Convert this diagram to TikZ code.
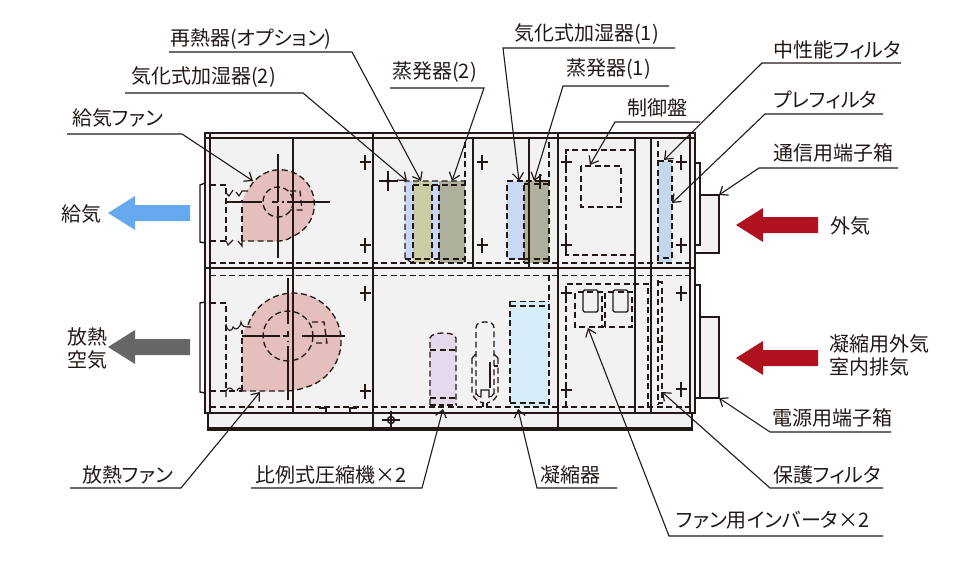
\documentclass[tikz,border=0pt]{standalone}
\usepackage{fontspec}
\setmainfont[RawFeature={+palt}]{Noto Sans CJK JP}
\usetikzlibrary{arrows.meta}
\definecolor{ink}{HTML}{231815}
\definecolor{casegray}{HTML}{F2F2F2}
\definecolor{fanpink}{HTML}{E4BFBE}
\definecolor{humblue}{HTML}{C9D8F7}
\definecolor{olivea}{HTML}{C9CCA4}
\definecolor{oliveb}{HTML}{AFB09B}
\definecolor{filtblue}{HTML}{C3D8EC}
\definecolor{condblue}{HTML}{D5ECF9}
\definecolor{complilac}{HTML}{E6D9EB}
\definecolor{airblue}{HTML}{66A9EE}
\definecolor{airgray}{HTML}{666666}
\definecolor{airred}{HTML}{B0121F}
\tikzset{
  x=1pt,y=-1pt,
  line/.style={draw=ink,line width=1.4pt},
  thin line/.style={draw=ink,line width=1.1pt},
  dash line/.style={draw=ink,line width=1.3pt,dash pattern=on 6pt off 3.5pt},
  lead/.style={draw=ink,line width=1.1pt,-{Straight Barb[length=7pt,width=11pt,line width=1.2pt]}},
  lab/.style={anchor=west,inner sep=0pt,text=ink,font=\fontsize{20}{22}\selectfont},
  txt/.style={inner sep=0pt,text=ink,font=\fontsize{20}{22}\selectfont},
  crossmark/.style={draw=ink,line width=1.3pt},
}
\begin{document}
\begin{tikzpicture}
\useasboundingbox (0,0) rectangle (960,560);
% case fills
\fill[casegray] (205,133) rectangle (695,413);
\fill[casegray] (208,413) rectangle (692,430);
\fill[casegray] (700,195) rectangle (719,253);
\fill[casegray] (700,317) rectangle (719,398);
% colour fills
\fill[fanpink] (242,241) -- (242,205) .. controls (243,197) and (246,191) .. (250,187) arc[start angle=210,end angle=430,radius=34.5] .. controls (288,240) and (283,241) .. (278,241) -- cycle;
\fill[fanpink] (242,391) -- (242,338) .. controls (243,332) and (245,328) .. (248,324.6) arc[start angle=200,end angle=435,radius=48] .. controls (298,390) and (292,391) .. (285,391) -- cycle;
\fill[humblue] (405,181) rectangle (440,259);
\fill[olivea] (413,181) rectangle (432,263);
\fill[oliveb] (439,181) rectangle (465,263);
\fill[humblue] (507,181) rectangle (525,259);
\fill[oliveb] (524,181) rectangle (549,263);
\fill[filtblue] (658,161) rectangle (672,263);
\fill[condblue] (510,301) rectangle (549,407);
\fill[complilac] (430,405) -- (430,338) .. controls (431,334) and (438,333) .. (443,333) .. controls (449,333) and (455,334) .. (456,338) -- (456,405) -- cycle;
% flanges
\draw[line] (205,183) -- (200,185) -- (200,242) -- (205,243);
\draw[line] (205,302) -- (200,303) -- (200,392) -- (205,393);
\draw[line] (695,163) -- (700,163) -- (700,245) -- (695,245);
\draw[line] (700,195) -- (719,195) -- (719,253) -- (695,253);
\draw[line] (695,285) -- (700,285) -- (700,398) -- (695,398);
\draw[line] (700,317) -- (719,317) -- (719,398) -- (700,398);
% case lines
\draw[line] (205,133) rectangle (695,413);
\draw[line] (205,138) -- (695,138);
\draw[line] (205,268) -- (695,268);
\draw[line] (210,133) -- (210,413);
\draw[line] (690,133) -- (690,413);
\draw[line] (208,413) -- (208,430) -- (692,430) -- (692,413);
\draw[line] (208,428) -- (692,428);
\draw[line] (293,138) -- (293,413);
\draw[line] (373,133) -- (373,430);
\draw[line] (473,138) -- (473,268);
\draw[thin line] (529,138) -- (529,268);
\draw[line] (558,133) -- (558,430);
\draw[line] (635,138) -- (635,413);
\draw[line] (651,138) -- (651,413);
% long dashed rails
\draw[dash line] (210,263) -- (690,263);
\draw[dash line] (210,275.5) -- (690,275.5);
\draw[dash line] (210,407) -- (690,407);
% crosses
\foreach \cx/\cy in {365/162,365/245,482/162,482/245,540/181,566/162,566/245,681/162,681/245,365/293,365/391,566/293,566/390,681/293,681/389}{
  \draw[crossmark] (\cx-5.5,\cy) -- (\cx+5.5,\cy) (\cx,\cy-7.5) -- (\cx,\cy+7.5);
}
\draw[crossmark] (379,181) -- (398,181) (388,171) -- (388,191);
\fill[ink] (388,181) circle[radius=2];
% supply fan
\draw[dash line] (242,241) -- (242,200);
\draw[dash line] (250,187) arc[start angle=210,end angle=430,radius=34.5] .. controls (288,240) and (283,241) .. (278,241) -- (242,241);
\draw[dash line] (278,202) circle[radius=15];
\draw[dash line] (290,191) -- (300,191) -- (302,210) -- (290,210);
\draw[thin line] (278,154) -- (278,196) (278,208) -- (278,258);
\draw[thin line] (226,202) -- (262,202) (287,202) -- (330,202);
\draw[dash line] (272,202) -- (284,202) (278,196) -- (278,208);
\draw[dash line] (210,185) -- (226,185) -- (226,240);
\draw[dash line] (210,241) -- (226,241);
\draw[thin line] (226,193) -- (229,196) -- (233,190) (236,192) -- (239,196) -- (242,191) -- (248,191);
\draw[thin line] (226,241) -- (228,245) -- (233,240) (238,241) -- (242,246) -- (242,241);
% heat rejection fan
\draw[dash line] (242,391) -- (242,330);
\draw[dash line] (248,324.6) arc[start angle=200,end angle=435,radius=48] .. controls (298,390) and (292,391) .. (285,391) -- (242,391);
\draw[dash line] (288,336) circle[radius=25];
\draw[dash line] (312,322) -- (324,322) -- (327,343) -- (316,343);
\draw[thin line] (288,278) -- (288,324) (288,346) -- (288,400);
\draw[thin line] (242,336) -- (280,336) (302,336) -- (345,336);
\draw[dash line] (283,336) -- (293,336) (288,331) -- (288,341);
\draw[dash line] (210,303) -- (226,303) -- (226,391);
\draw[dash line] (210,391) -- (242,391);
\draw[thin line] (226,324) .. controls (227,332) and (232,332) .. (233,327) .. controls (235,331) and (240,329) .. (241,322) .. controls (242,327) and (244,327) .. (251,327);
\draw[thin line] (226,397) -- (226,391) .. controls (228,387) and (232,387) .. (233,391) (237,391) .. controls (238,387) and (241,387) .. (242,391);
% floor brackets
\draw[line] (319,408) -- (326,408) -- (326,413);
\draw[line] (350,413) -- (350,408) -- (357,408);
% base marker
\draw[line] (391,420) circle[radius=3.5];
\draw[thin line] (382,420) -- (400,420) (391,411) -- (391,431);
% humidifier 2 / evaporator 2
\draw[dash line] (413,263) -- (405,259) -- (405,181) -- (465,181);
\draw[dash line] (405,259) -- (465,259);
\draw[dash line] (413,185) -- (413,263);
\draw[dash line] (432,185) -- (432,263);
\draw[dash line] (439,185) -- (439,263);
\draw[dash line] (465,142) -- (465,263);
\draw[dash line] (413,185) -- (465,185);
% humidifier 1 / evaporator 1
\draw[dash line] (524,259) -- (507,259) -- (507,181) -- (549,181);
\draw[dash line] (524,185) -- (524,263);
\draw[dash line] (549,142) -- (549,263);
\draw[dash line] (524,184) -- (549,184);
\draw[dash line] (524,259) -- (549,259);
% control panel
\draw[dash line] (635,150) -- (566,150) -- (566,255) -- (635,255);
\draw[dash line] (581,166) rectangle (621,207);
% filters
\draw[dash line] (658,141) -- (658,263);
\draw[dash line] (658,161) -- (672,161) -- (672,258) -- (660,258);
% compressor 1
\draw[dash line] (430,405) -- (430,338) .. controls (431,334) and (438,333) .. (443,333) .. controls (449,333) and (455,334) .. (456,338) -- (456,405);
\draw[dash line] (430,350) -- (456,350);
\draw[dash line] (430,398) -- (456,398);
\draw[draw=ink,line width=2.6pt,dash pattern=on 5.5pt off 3pt] (430,405) -- (456,405);
% compressor 2
\draw[dash line] (476,395) -- (476,328) .. controls (476,323) and (480,322) .. (485,322) .. controls (490,322) and (494,323) .. (494,328) -- (494,395);
\draw[thin line] (476,354) -- (472,358);
\draw[thin line] (494,354) -- (498,358);
\draw[dash line] (472,358) -- (472,393) .. controls (474,399) and (478,402) .. (484,403);
\draw[dash line] (498,358) -- (498,393) .. controls (496,399) and (492,402) .. (487,403);
\draw[thin line] (476,393) .. controls (477,396) and (479,397) .. (481,397) -- (481,390) -- (489,390) -- (489,397) .. controls (491,397) and (493,396) .. (494,393);
\draw[thin line] (490,362) -- (490,388);
\draw[thin line] (494,366) -- (498,366);
\draw[thin line] (483,407) -- (483,403) (487,407) -- (487,403);
% condenser
\draw[dash line] (510,301.5) -- (549,301.5);
\draw[dash line] (510,306) -- (549,306);
\draw[dash line] (510,403) -- (549,403);
\draw[dash line] (510,301) -- (510,407);
\draw[dash line] (549,275) -- (549,407);
% inverter area
\draw[dash line] (566,407) -- (566,284) -- (648,284) -- (648,407);
\draw[dash line] (604,327) -- (575,327) -- (575,292) -- (602,292) -- (602,327);
\draw[dash line] (605,327) -- (605,292) -- (632,292) -- (632,327) -- (605,327);
\draw[line,rounded corners=1.5pt] (583,290) rectangle (598,312);
\draw[line,rounded corners=1.5pt] (613,290) rectangle (628,312);
% protection filter
\draw[dash line] (658,280) -- (658,405);
\draw[dash line] (658,282) -- (662,282) -- (662,403) -- (658,403);
\draw[thin line] (658,342) -- (663,342);
% air arrows
\fill[airblue] (108,213) -- (135,196) -- (135,205) -- (190,205) -- (190,221) -- (135,221) -- (135,230) -- cycle;
\fill[airgray] (108,347) -- (135,330) -- (135,339) -- (190,339) -- (190,355) -- (135,355) -- (135,364) -- cycle;
\fill[airred] (736,225) -- (763,208) -- (763,217) -- (818,217) -- (818,233) -- (763,233) -- (763,242) -- cycle;
\fill[airred] (736,358) -- (763,341) -- (763,350) -- (818,350) -- (818,366) -- (763,366) -- (763,375) -- cycle;
% plain labels
\node[txt] (airin) at (81,214) {給気};
\node[txt,align=center] (airhot) at (87,348) {放熱\\[1pt]空気};
\node[txt] (airout) at (850,226) {外気};
\node[lab,align=left] (airmix) at (829,355) {凝縮用外気\\[1pt]室内排気};
% leader labels
\coordinate (tfan) at (253,181);
\coordinate (thum2) at (407,181);
\coordinate (treh) at (421,181);
\coordinate (tevp2) at (452,181);
\coordinate (thum1) at (519,181);
\coordinate (tevp1) at (534,181);
\coordinate (tpan) at (590,165);
\coordinate (tmid) at (664,160);
\coordinate (tpre) at (672,203);
\coordinate (tcom) at (719,195);
\coordinate (tpow) at (719,398);
\coordinate (tpro) at (662,392);
\coordinate (tinv) at (588,328);
\coordinate (tcnd) at (518,409);
\coordinate (tcmp) at (443,409);
\coordinate (trej) at (260,392);
\node[lab] (nfan) at (72,118) {給気ファン};
\draw[lead] (67,134) -- (182,134) -- (tfan);
\node[lab] (nhum2) at (131,77) {気化式加湿器(2)};
\draw[lead] (125,93) -- (303,93) -- (thum2);
\node[lab] (nreh) at (170,39) {再熱器(オプション)};
\draw[lead] (169,52) -- (352,52) -- (treh);
\node[lab] (nevp2) at (392,72) {蒸発器(2)};
\draw[lead] (390,88) -- (484,88) -- (tevp2);
\node[lab] (nhum1) at (514,34) {気化式加湿器(1)};
\draw[lead] (675,48) -- (503,48) -- (thum1);
\node[lab] (nevp1) at (566,69) {蒸発器(1)};
\draw[lead] (669,86) -- (563,86) -- (tevp1);
\node[lab] (npan) at (627,108) {制御盤};
\draw[lead] (700,122) -- (615,122) -- (tpan);
\node[lab] (nmid) at (773,50) {中性能フィルタ};
\draw[lead] (901,63) -- (762,63) -- (tmid);
\node[lab] (npre) at (773,100) {プレフィルタ};
\draw[lead] (883,114) -- (765,114) -- (tpre);
\node[lab] (ncom) at (773,153) {通信用端子箱};
\draw[lead] (898,168) -- (759,168) -- (tcom);
\node[lab] (npow) at (772,418) {電源用端子箱};
\draw[lead] (891,432) -- (770,432) -- (tpow);
\node[lab] (npro) at (773,475) {保護フィルタ};
\draw[lead] (883,488) -- (770,488) -- (tpro);
\node[lab] (ninv) at (676,520) {ファン用インバータ×2};
\draw[lead] (883,536) -- (669,536) -- (tinv);
\node[lab] (ncnd) at (540,475) {凝縮器};
\draw[lead] (617,488) -- (537,488) -- (tcnd);
\node[lab] (ncmp) at (255,475) {比例式圧縮機×2};
\draw[lead] (251,488) -- (422,488) -- (tcmp);
\node[lab] (nrej) at (82,475) {放熱ファン};
\draw[lead] (70,488) -- (181,488) -- (trej);
\end{tikzpicture}
\end{document}
